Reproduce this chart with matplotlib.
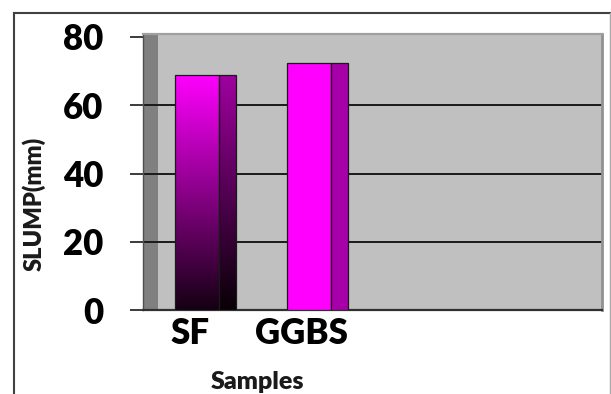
import numpy as np
import matplotlib
matplotlib.use("Agg")
import matplotlib.pyplot as plt
from matplotlib.colors import LinearSegmentedColormap
from matplotlib.lines import Line2D

# Data
categories = ["SF", "GGBS"]
slump_mm = [69.0, 72.5]
y_ticks = [0, 20, 40, 60, 80]
x_label = "Samples"
y_label = "SLUMP(mm)"

plt.rcParams["font.family"] = ["Lato", "DejaVu Sans"]
plt.rcParams["font.weight"] = "heavy"

W, H = 611, 394
fig = plt.figure(figsize=(W / 100, H / 100), dpi=100)
fig.patch.set_facecolor("white")

# plot area in pixel coordinates
left_px, right_px, top_px, bottom_px = 143, 602, 34, 310
ax = fig.add_axes([left_px / W, 1 - bottom_px / H,
                   (right_px - left_px) / W, (bottom_px - top_px) / H])

px_per_cat = 112.0
x0 = (left_px - 190) / px_per_cat
x1 = (right_px - 190) / px_per_cat
ymax = 80 * (bottom_px - top_px) / (bottom_px - 37)

ax.set_facecolor("#C0C0C0")
ax.set_xlim(x0, x1)
ax.set_ylim(0, ymax)

# dark side wall on the left of the plot area
ax.axvspan(x0, x0 + 15 / px_per_cat, color="#808080", zorder=0.5, lw=0)

# gridlines
for v in y_ticks[1:-1]:
    ax.axhline(v, color="#1a1a1a", lw=1.4, zorder=1)

# bars: front face + side face (3D look)
xpos = np.arange(len(categories))
front_off, front_w = -15 / px_per_cat, 44 / px_per_cat
side_w = 17 / px_per_cat

front_cmap = LinearSegmentedColormap.from_list("front", ["#150012", "#FF00FF"])
side_cmap = LinearSegmentedColormap.from_list("side", ["#080006", "#A000A0"])

fronts = ax.bar(xpos + front_off, slump_mm, width=front_w, align="edge",
                color="#FF00FF", edgecolor="#1a1a1a", lw=0.9, zorder=3)
sides = ax.bar(xpos + front_off + front_w, slump_mm, width=side_w, align="edge",
               color="#A800A8", edgecolor="#1a1a1a", lw=0.9, zorder=3)

# gradient fill for the first series bar
grad = np.linspace(0, 1, 256).reshape(-1, 1)
for patch, cmap in ((fronts[0], front_cmap), (sides[0], side_cmap)):
    bx, bw, bh = patch.get_x(), patch.get_width(), patch.get_height()
    im = ax.imshow(grad, cmap=cmap, origin="lower", aspect="auto",
                   extent=[bx, bx + bw, 0, bh], zorder=3.5)
    im.set_clip_path(patch)
    patch.set_facecolor("none")
    patch.set_zorder(4)

ax.set_xlim(x0, x1)
ax.set_ylim(0, ymax)

# spines
ax.spines["left"].set_color("#505050")
ax.spines["left"].set_linewidth(1.0)
ax.spines["bottom"].set_color("#303030")
ax.spines["bottom"].set_linewidth(1.6)
ax.spines["top"].set_color("#A0A0A0")
ax.spines["top"].set_linewidth(1.6)
ax.spines["right"].set_color("#909090")
ax.spines["right"].set_linewidth(2.0)

# ticks
ax.set_yticks(y_ticks)
ax.set_yticklabels([str(t) for t in y_ticks])
ax.tick_params(axis="y", length=9.5, width=1.2, color="#1a1a1a", pad=19,
               labelsize=25, labelcolor="black")
ax.set_xticks(xpos)
ax.set_xticklabels(categories)
ax.tick_params(axis="x", length=0, pad=5, labelsize=25, labelcolor="black")
for lab in ax.get_xticklabels() + ax.get_yticklabels():
    lab.set_fontweight("heavy")

# axis titles
fig.text(257 / W, 1 - 393 / H, x_label, ha="center", va="bottom",
         fontsize=18, fontweight="heavy", color="#1a1a1a")
fig.text(34 / W, 1 - 204 / H, y_label, ha="center", va="center",
         rotation=90, fontsize=17, fontweight="heavy", color="#1a1a1a")

# chart border
fig.add_artist(Line2D([14 / W, 14 / W], [0, 1 - 13 / H], transform=fig.transFigure,
                      color="#404040", lw=1.5))
fig.add_artist(Line2D([14 / W, 610 / W], [1 - 13 / H, 1 - 13 / H], transform=fig.transFigure,
                      color="#404040", lw=1.5))
fig.add_artist(Line2D([610 / W, 610 / W], [0, 1 - 13 / H], transform=fig.transFigure,
                      color="#A8A8A8", lw=1.0))

fig.savefig("out.png", dpi=100)
